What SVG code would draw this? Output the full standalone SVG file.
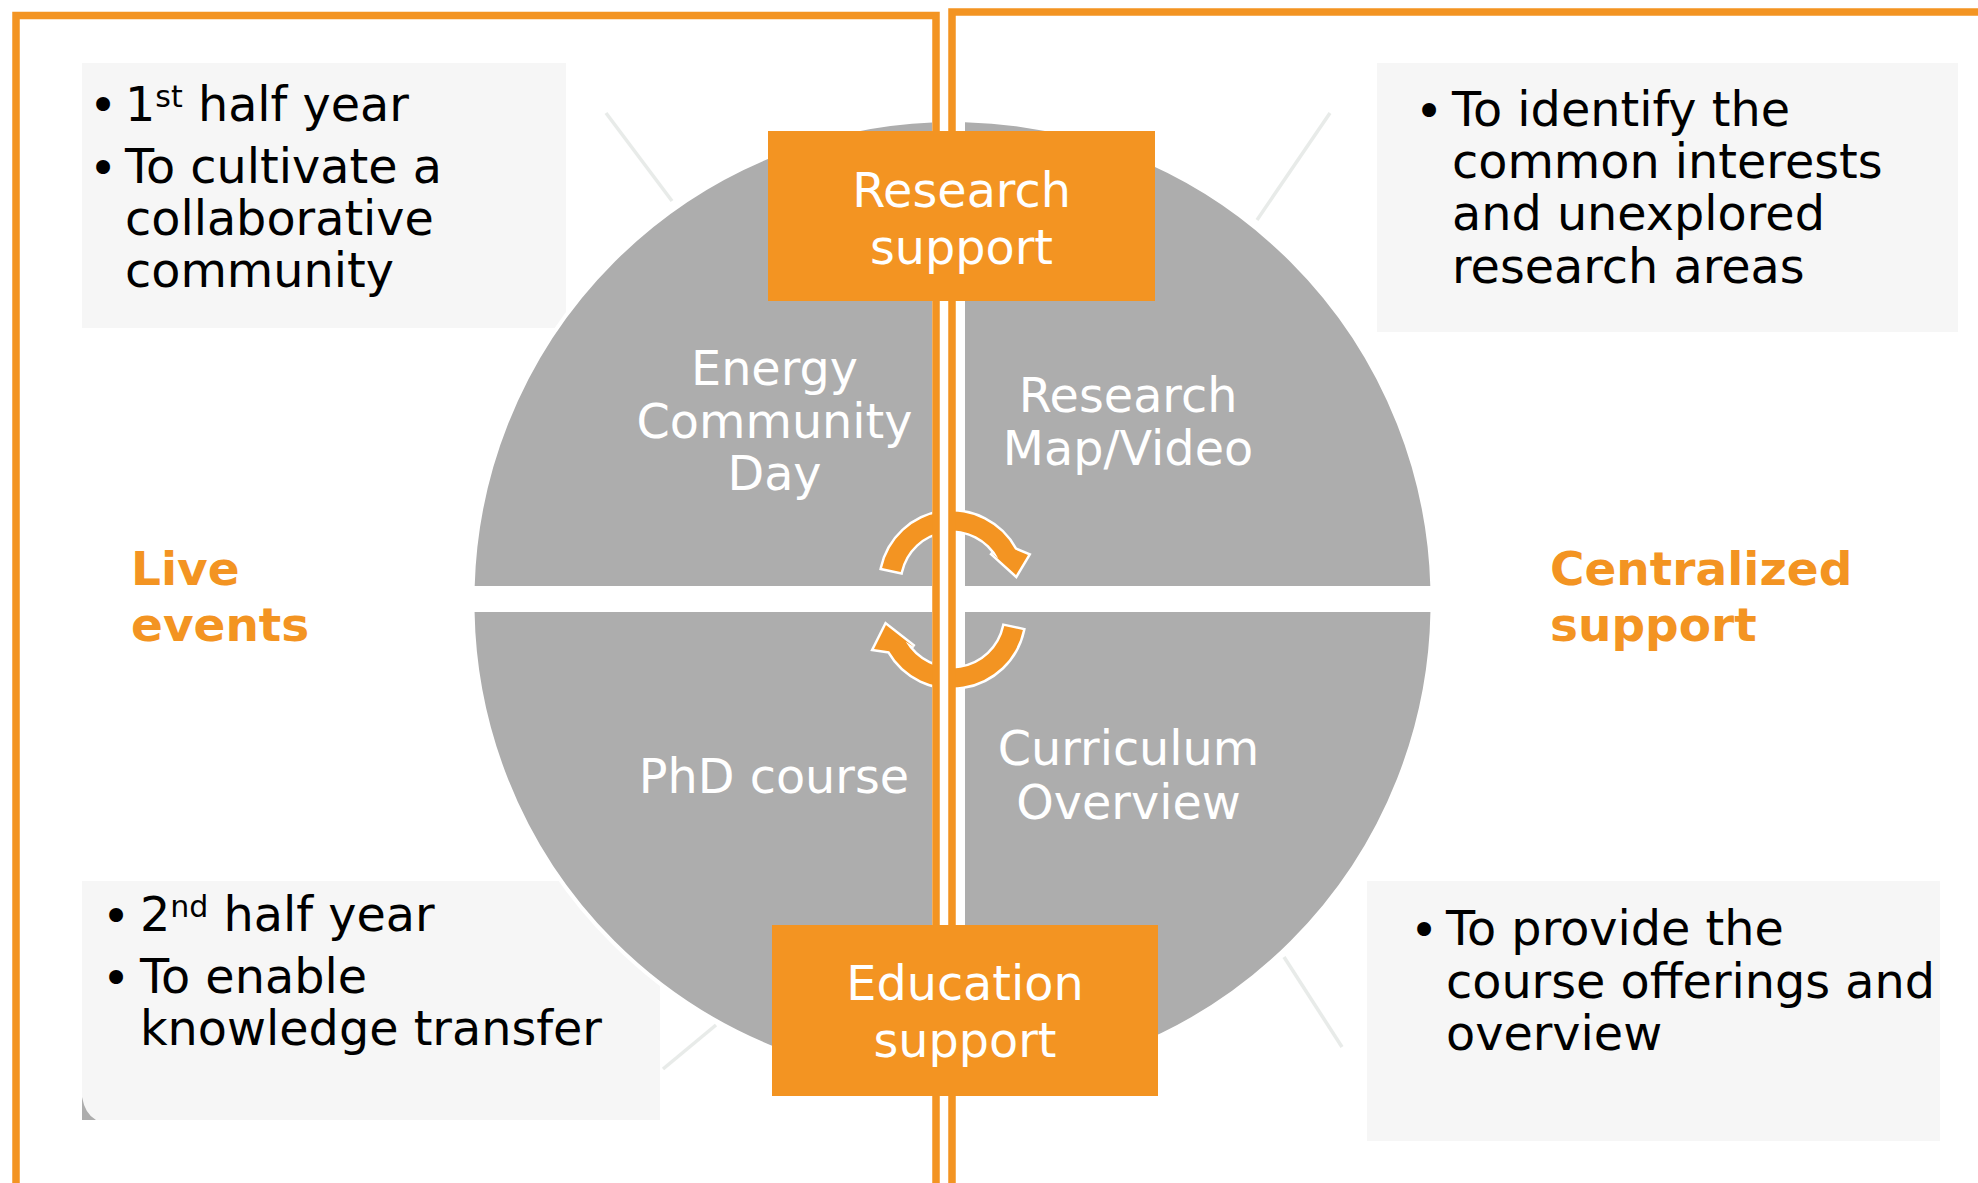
<svg xmlns="http://www.w3.org/2000/svg" width="1978" height="1183" viewBox="0 0 1978 1183">
<defs>
<style>
.panel{fill:none;stroke:#F39422;stroke-width:7.5}
.note{fill:#F6F6F6}
.callout{stroke:#E8EBE9;stroke-width:3.5;fill:none}
.quad{fill:#ADADAD;stroke:#FFFFFF;stroke-width:4}
.arrow{fill:#F39422;stroke:#FFFFFF;stroke-width:5;paint-order:stroke;stroke-linejoin:miter}
.hub{fill:#F39422}
text{font-family:"DejaVu Sans",Verdana,sans-serif;font-size:47.7px}
.dark{fill:#000000}
.light{fill:#FFFFFF}
.accent{fill:#F39422;font-weight:bold;font-size:47px}
.mid{text-anchor:middle}
.sup{font-size:30px}
</style>
<clipPath id="cTL"><rect x="0" y="0" width="932" height="586"/></clipPath>
<clipPath id="cTR"><rect x="965" y="0" width="1013" height="586"/></clipPath>
<clipPath id="cBL"><rect x="0" y="612" width="932" height="600"/></clipPath>
<clipPath id="cBR"><rect x="965" y="612" width="1013" height="600"/></clipPath>
</defs>
<rect x="0" y="0" width="1978" height="1183" fill="#FFFFFF"/>

<g id="note-live-1">
<rect class="note" x="82" y="63" width="484" height="265"/>
<text class="dark mid" x="103" y="122">•</text>
<text class="dark" x="125" y="120.5">1<tspan class="sup" dy="-14">st</tspan><tspan dy="14"> half year</tspan></text>
<text class="dark mid" x="103" y="185">•</text>
<text class="dark" x="125" y="183">To cultivate a</text>
<text class="dark" x="125" y="235">collaborative</text>
<text class="dark" x="125" y="287">community</text>
</g>

<g id="note-central-1">
<rect class="note" x="1377" y="63" width="581" height="269"/>
<text class="dark mid" x="1429" y="127.5">•</text>
<text class="dark" x="1452" y="125.5">To identify the</text>
<text class="dark" x="1452" y="178">common interests</text>
<text class="dark" x="1452" y="230">and unexplored</text>
<text class="dark" x="1452" y="282.5">research areas</text>
</g>

<g id="note-live-2">
<rect class="note" x="82" y="881" width="578" height="239"/>
<path d="M82 1097 Q85 1114 96 1120 L82 1120 Z" fill="#ADADAD"/>
<text class="dark mid" x="116" y="933">•</text>
<text class="dark" x="140" y="931">2<tspan class="sup" dy="-14">nd</tspan><tspan dy="14"> half year</tspan></text>
<text class="dark mid" x="116" y="995">•</text>
<text class="dark" x="140" y="993">To enable</text>
<text class="dark" x="140" y="1045">knowledge transfer</text>
</g>

<g id="note-central-2">
<rect class="note" x="1367" y="881" width="573" height="260"/>
<text class="dark mid" x="1424" y="947">•</text>
<text class="dark" x="1446" y="945">To provide the</text>
<text class="dark" x="1446" y="998">course offerings and</text>
<text class="dark" x="1446" y="1050">overview</text>
</g>

<g id="connectors">
<line class="callout" x1="606" y1="113" x2="672" y2="201"/>
<line class="callout" x1="1330" y1="113" x2="1257" y2="220"/>
<line class="callout" x1="716" y1="1025" x2="663" y2="1069"/>
<line class="callout" x1="1284" y1="957" x2="1342" y2="1047"/>
</g>

<g id="quadrant-energy-day">
<circle class="quad" cx="952.5" cy="600" r="480" clip-path="url(#cTL)"/>
<text class="light mid" x="774.5" y="385">Energy</text>
<text class="light mid" x="774.5" y="438">Community</text>
<text class="light mid" x="774.5" y="490">Day</text>
</g>
<g id="quadrant-research-map">
<circle class="quad" cx="952.5" cy="600" r="480" clip-path="url(#cTR)"/>
<text class="light mid" x="1128" y="411.5">Research</text>
<text class="light mid" x="1128" y="465">Map/Video</text>
</g>
<g id="quadrant-phd">
<circle class="quad" cx="952.5" cy="603" r="480" clip-path="url(#cBL)"/>
<text class="light mid" x="774" y="793">PhD course</text>
</g>
<g id="quadrant-curriculum">
<circle class="quad" cx="952.5" cy="603" r="480" clip-path="url(#cBR)"/>
<text class="light mid" x="1128.5" y="765">Curriculum</text>
<text class="light mid" x="1128.5" y="818.5">Overview</text>
</g>

<g id="cycle-arrows">
<path class="arrow" d="M882.1 568.1 A71.5 71.5 0 0 1 1015.1 549.5 L1028 555 L1016 575 L991 552.5 L998.4 558.4 A52.5 52.5 0 0 0 900.7 572.1 Z"/>
<path class="arrow" d="M1004.3 626.1 L1022.9 630.1 A72.5 72.5 0 0 1 889.2 651.25 L874 649 L886 625 L914 647 L905.7 641.75 A53.5 53.5 0 0 0 1004.3 626.1 Z"/>
</g>

<g id="frames">
<rect x="939" y="0" width="10" height="1183" fill="#FFFFFF"/>
<path class="panel" d="M16 1190 V15.5 H936 V1190"/>
<path class="panel" d="M952 1190 V12 H1990"/>
</g>

<g id="hub-research-support">
<rect class="hub" x="768" y="131" width="387" height="170"/>
<text class="light mid" x="961.5" y="207">Research</text>
<text class="light mid" x="961.5" y="264">support</text>
</g>
<g id="hub-education-support">
<rect class="hub" x="772" y="925" width="386" height="171"/>
<text class="light mid" x="965" y="1000">Education</text>
<text class="light mid" x="965" y="1057">support</text>
</g>

<g id="label-live-events">
<text class="accent" x="131" y="585">Live</text>
<text class="accent" x="131" y="641">events</text>
</g>
<g id="label-centralized-support">
<text class="accent" x="1550" y="585">Centralized</text>
<text class="accent" x="1550" y="641">support</text>
</g>
</svg>
